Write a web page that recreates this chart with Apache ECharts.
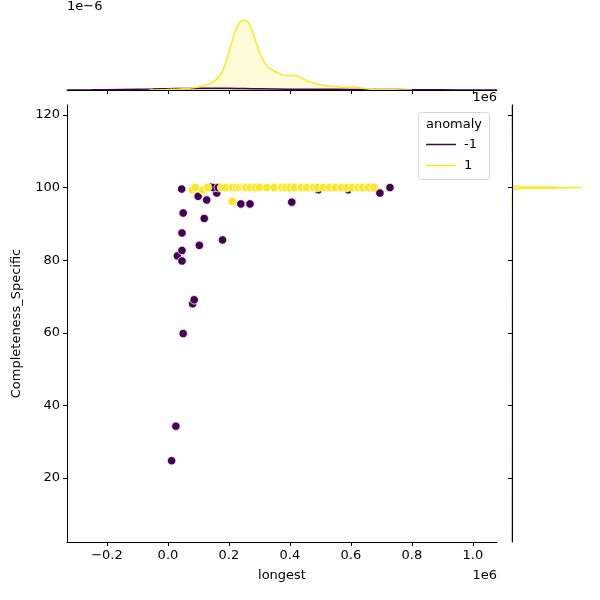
<!DOCTYPE html>
<html>
<head>
<meta charset="utf-8">
<title>anomaly jointplot</title>
<script src="https://cdn.jsdelivr.net/npm/echarts@6/dist/echarts.min.js"></script>
<style>
  html, body { margin: 0; padding: 0; background: #fff; }
  #chart { width: 600px; height: 600px; }
</style>
</head>
<body>
<div id="chart"></div>
<script>
// scatter points [longest, Completeness_Specific], anomaly = -1
var negPts = [
  [12000, 24.8], [26000, 34.3], [50000, 59.8], [81000, 68.0], [86000, 69.1],
  [31000, 81.2], [46000, 79.8], [46000, 82.7], [46000, 87.5], [103000, 84.1],
  [179000, 85.6], [50000, 93.0], [119000, 91.5], [127000, 96.6], [99000, 97.6],
  [45000, 99.6], [239000, 95.5], [269000, 95.5], [406000, 96.0], [160000, 98.5],
  [143000, 100.2], [149000, 100], [165000, 100], [290000, 100], [400000, 100],
  [493000, 99.4], [591000, 99.4], [637000, 100], [662000, 100], [676000, 100],
  [695000, 98.5], [728000, 100]
];
// anomaly = 1
var posPts = [
  [80000, 99.4], [90000, 100], [114000, 99.3], [130000, 100], [176000, 100],
  [190000, 100], [212000, 100], [225000, 100], [235000, 100], [245000, 100],
  [252000, 100], [258000, 100], [270000, 100], [285000, 100], [300000, 100],
  [324000, 100], [348000, 100], [373000, 100], [385000, 100], [400000, 100],
  [414000, 100], [438000, 100], [455000, 100], [477000, 100], [490000, 100],
  [509000, 100], [530000, 100], [548000, 100], [570000, 100], [586000, 100],
  [605000, 100], [624000, 100], [638000, 100], [657000, 100], [675000, 100],
  [211000, 96.2]
];

// tick values
var xTicks = [-200000, 0, 200000, 400000, 600000, 800000, 1000000];
var yTicks = [20, 40, 60, 80, 100, 120];

// top marginal kde (density, units of 1e-6)
var topPosX = [-60000, -20000, 0, 40000, 83000, 110000, 138000, 155000, 170000,
  182000, 192000, 203000, 214000, 225000, 236000, 247000, 260000, 270000, 280000,
  291000, 302000, 313000, 324000, 340000, 356000, 372000, 389000, 411000, 425000,
  433000, 450000, 466000, 482000, 498000, 520000, 542000, 564000, 586000, 600000,
  608000, 620000, 630000, 652000, 673000, 700000, 739000, 800000];
var topPosDens = [0, 0.01, 0.03, 0.06, 0.13, 0.22, 0.35, 0.55, 0.83,
  1.2, 1.69, 2.35, 3.02, 3.55, 3.88, 4.03, 3.94, 3.65, 3.22,
  2.65, 2.07, 1.70, 1.40, 1.18, 1.02, 0.90, 0.82, 0.84, 0.80,
  0.73, 0.58, 0.45, 0.37, 0.31, 0.24, 0.20, 0.17, 0.16, 0.17,
  0.18, 0.16, 0.13, 0.07, 0.03, 0.015, 0.008, 0];
var topNegX = [-330000, -250000, -150000, -50000, 0, 50000, 100000, 150000, 200000, 250000,
  300000, 400000, 500000, 600000, 700000, 800000, 900000, 1000000, 1079000];
var topNegDens = [0.003, 0.01, 0.03, 0.055, 0.075, 0.09, 0.1, 0.1, 0.095, 0.085,
  0.07, 0.05, 0.04, 0.035, 0.03, 0.02, 0.01, 0.004, 0.001];

// right marginal kde of Completeness_Specific
var rightPosY = [95, 96.2, 97.5, 99.5, 99.75, 99.9, 100, 100.1, 100.25, 100.5, 101];
var rightPosDens = [0, 0.03, 0, 0.05, 0.5, 2.5, 4.0, 2.5, 0.5, 0.05, 0];
var rightNegY = [2.4, 10, 25, 35, 50, 60, 70, 85, 95, 100, 110, 120, 122.7];
var rightNegDens = [0.003, 0.006, 0.01, 0.012, 0.01, 0.012, 0.015, 0.02, 0.025, 0.03, 0.015, 0.006, 0.003];

var PURPLE = '#440154';
var YELLOW = '#fde725';
var FONT = 'DejaVu Sans';

function zip(a, b) {
  return a.map(function (v, i) { return [v, b[i]]; });
}
function xFmt(v) {
  return (v / 1e6).toFixed(1).replace('-', '\u2212');
}

// filled polygon for the sideways kde (area of a line series only fills to the x axis)
function sideFill(pairs, color) {
  return function (params, api) {
    if (params.dataIndex !== 0) return;
    var pts = pairs.map(function (p) { return api.coord([p[0], p[1]]); });
    pts.push(api.coord([0, pairs[pairs.length - 1][1]]));
    pts.push(api.coord([0, pairs[0][1]]));
    return { type: 'polygon', shape: { points: pts }, style: { fill: color } };
  };
}

var xMin = -331000, xMax = 1079000;
var yMin = 2.4, yMax = 122.75;

var axisLine = { show: true, onZero: false, lineStyle: { color: '#000', width: 1 } };

var myChart = echarts.init(document.getElementById('chart'));

var rightPos = zip(rightPosDens, rightPosY);
var rightNeg = zip(rightNegDens, rightNegY);

var option = {
  animation: false,
  backgroundColor: '#fff',
  textStyle: { fontFamily: FONT },
  grid: [
    { left: 67, top: 105, width: 430, height: 437 },
    { left: 67, top: 3, width: 430, height: 87 },
    { left: 512, top: 105, width: 87, height: 437 }
  ],
  xAxis: [
    {
      gridIndex: 0, type: 'value', min: xMin, max: xMax,
      name: 'longest', nameLocation: 'middle', nameGap: 27,
      nameTextStyle: { color: '#000', fontSize: 13, fontFamily: FONT },
      axisLine: axisLine,
      axisTick: { show: true, length: 4, lineStyle: { color: '#000' }, customValues: xTicks },
      axisLabel: { color: '#000', fontSize: 13, fontFamily: FONT, margin: 7, customValues: xTicks, formatter: xFmt },
      splitLine: { show: false }
    },
    {
      gridIndex: 1, type: 'value', min: xMin, max: xMax, z: 5,
      axisLine: axisLine,
      axisTick: { show: true, length: 4, lineStyle: { color: '#000' }, customValues: xTicks },
      axisLabel: { show: false },
      splitLine: { show: false }
    },
    {
      gridIndex: 2, type: 'value', min: 0, max: 5, show: false
    }
  ],
  yAxis: [
    {
      gridIndex: 0, type: 'value', min: yMin, max: yMax,
      name: 'Completeness_Specific', nameLocation: 'middle', nameGap: 44,
      nameTextStyle: { color: '#000', fontSize: 13, fontFamily: FONT },
      axisLine: axisLine,
      axisTick: { show: true, length: 4, lineStyle: { color: '#000' }, customValues: yTicks },
      axisLabel: { color: '#000', fontSize: 13, fontFamily: FONT, margin: 7, customValues: yTicks },
      splitLine: { show: false }
    },
    {
      gridIndex: 1, type: 'value', min: 0, max: 5, show: false
    },
    {
      gridIndex: 2, type: 'value', min: yMin, max: yMax, z: 5,
      axisLine: axisLine,
      axisTick: { show: true, length: 4, lineStyle: { color: '#000' }, customValues: yTicks },
      axisLabel: { show: false },
      splitLine: { show: false }
    }
  ],
  series: [
    // main scatter
    {
      name: '-1', type: 'scatter', xAxisIndex: 0, yAxisIndex: 0,
      data: negPts, symbolSize: 8.5,
      itemStyle: { color: PURPLE, borderColor: '#fff', borderWidth: 0.8, opacity: 1 }
    },
    {
      name: '1', type: 'scatter', xAxisIndex: 0, yAxisIndex: 0,
      data: posPts, symbolSize: 8.5,
      itemStyle: { color: YELLOW, borderColor: '#fff', borderWidth: 0.8, opacity: 1 }
    },
    // top marginal kde
    {
      type: 'line', xAxisIndex: 1, yAxisIndex: 1, data: zip(topNegX, topNegDens),
      smooth: 0.3, showSymbol: false,
      lineStyle: { color: PURPLE, width: 1.5 },
      areaStyle: { color: 'rgba(68,1,84,0.25)' }
    },
    {
      type: 'line', xAxisIndex: 1, yAxisIndex: 1, data: zip(topPosX, topPosDens),
      smooth: 0.3, showSymbol: false,
      lineStyle: { color: YELLOW, width: 1.5 },
      areaStyle: { color: 'rgba(253,231,37,0.25)' }
    },
    // right marginal kde
    {
      type: 'custom', xAxisIndex: 2, yAxisIndex: 2, data: rightNeg,
      renderItem: sideFill(rightNeg, 'rgba(68,1,84,0.25)'), silent: true
    },
    {
      type: 'custom', xAxisIndex: 2, yAxisIndex: 2, data: rightPos,
      renderItem: sideFill(rightPos, 'rgba(253,231,37,0.25)'), silent: true
    },
    {
      type: 'line', xAxisIndex: 2, yAxisIndex: 2, data: rightNeg,
      showSymbol: false, lineStyle: { color: PURPLE, width: 1.2, opacity: 0.5 }
    },
    {
      type: 'line', xAxisIndex: 2, yAxisIndex: 2, data: rightPos,
      showSymbol: false, lineStyle: { color: YELLOW, width: 1.5 }
    }
  ],
  graphic: [
    // offset texts
    { type: 'text', left: 67, top: 0, style: { text: '1e\u22126', fontSize: 13, fontFamily: FONT, fill: '#000' } },
    { type: 'text', right: 103, top: 91, style: { text: '1e6', fontSize: 13, fontFamily: FONT, fill: '#000' } },
    { type: 'text', right: 103, top: 569, style: { text: '1e6', fontSize: 13, fontFamily: FONT, fill: '#000' } },
    // legend
    {
      type: 'group', z: 100,
      children: [
        { type: 'rect', shape: { x: 418.5, y: 112.5, width: 71, height: 67, r: 3 },
          style: { fill: 'rgba(255,255,255,0.8)', stroke: '#d6d6d6', lineWidth: 1 } },
        { type: 'text', x: 454, y: 125, style: { text: 'anomaly', fontSize: 13, fontFamily: FONT, fill: '#000', align: 'center', verticalAlign: 'middle' } },
        { type: 'line', shape: { x1: 426, y1: 144.5, x2: 456, y2: 144.5 }, style: { stroke: PURPLE, lineWidth: 1.5 } },
        { type: 'text', x: 464, y: 145, style: { text: '-1', fontSize: 13, fontFamily: FONT, fill: '#000', verticalAlign: 'middle' } },
        { type: 'line', shape: { x1: 426, y1: 165.5, x2: 456, y2: 165.5 }, style: { stroke: YELLOW, lineWidth: 1.5 } },
        { type: 'text', x: 464, y: 166, style: { text: '1', fontSize: 13, fontFamily: FONT, fill: '#000', verticalAlign: 'middle' } }
      ]
    }
  ]
};

myChart.setOption(option);
</script>
</body>
</html>
